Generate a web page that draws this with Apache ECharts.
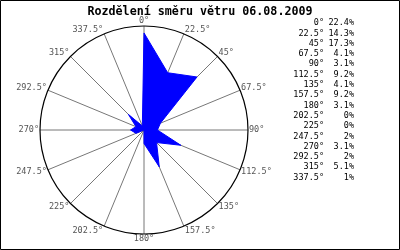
<!DOCTYPE html>
<html><head><meta charset="utf-8">
<script src="https://cdn.jsdelivr.net/npm/echarts@6/dist/echarts.min.js"></script>
<style>html,body{margin:0;padding:0;background:#fff}#c{width:400px;height:250px}</style>
</head><body><div id="c"></div>
<script>
const titleText = "Rozdělení směru větru 06.08.2009";
const directions = [0, 22.5, 45, 67.5, 90, 112.5, 135, 157.5, 180, 202.5, 225, 247.5, 270, 292.5, 315, 337.5];
const percents = [22.4, 14.3, 17.3, 4.1, 3.1, 9.2, 4.1, 9.2, 3.1, 0, 0, 2, 3.1, 2, 5.1, 1];
const radiusMax = 24;

const mono = "'DejaVu Sans Mono', monospace";
const lineData = directions.map((d, i) => [percents[i], d]);
lineData.push([percents[0], 360]);

const legendX1 = 324, legendX2 = 354, legendY0 = 23, legendDy = 10.3;
const graphics = [{type: 'rect', shape: {x: 0.5, y: 0.5, width: 399, height: 249}, style: {fill: 'none', stroke: '#000', lineWidth: 1}}];
directions.forEach((d, i) => {
  graphics.push({type: 'text', x: legendX1, y: legendY0 + i * legendDy,
    style: {text: d + '°', align: 'right', verticalAlign: 'middle', font: '8.5px ' + mono, fill: '#000'}});
  graphics.push({type: 'text', x: legendX2, y: legendY0 + i * legendDy,
    style: {text: percents[i] + '%', align: 'right', verticalAlign: 'middle', font: '8.5px ' + mono, fill: '#000'}});
});

const chart = echarts.init(document.getElementById('c'), null, {renderer: 'canvas'});
chart.setOption({
  animation: false,
  title: {text: titleText, left: 'center', top: 1,
    textStyle: {fontFamily: mono, fontWeight: 'bold', fontSize: 11.7, color: '#000'}},
  polar: {center: [144, 130], radius: 104},
  angleAxis: {type: 'value', min: 0, max: 360, interval: 22.5, startAngle: 90, clockwise: true,
    axisLine: {show: true, lineStyle: {color: '#000', width: 1.2}},
    axisTick: {show: false},
    splitLine: {show: true, lineStyle: {color: '#777', width: 1}},
    axisLabel: {show: false}},
  radiusAxis: {type: 'value', min: 0, max: radiusMax, show: false, splitLine: {show: false}},
  series: [{type: 'line', coordinateSystem: 'polar', data: lineData, symbol: 'none',
    lineStyle: {color: '#0000ff', width: 1}, areaStyle: {color: '#0000ff', opacity: 1}}],
  graphic: graphics
});

// angle labels placed at the end of each spoke, located through the polar coordinate system
const labelEls = directions.map(d => {
  const p = chart.convertToPixel({polarIndex: 0}, [radiusMax, d]);
  const rad = d * Math.PI / 180;
  const s = Math.sin(rad), c = Math.cos(rad);
  const align = s > 0.1 ? 'left' : (s < -0.1 ? 'right' : 'center');
  const dx = s > 0.1 ? 1 : (s < -0.1 ? -1 : 0);
  return {type: 'text', x: p[0] + dx, y: p[1] - 5 * c,
    style: {text: d + '°', align: align, verticalAlign: 'middle', font: '8.5px ' + mono, fill: '#555'}};
});
chart.setOption({graphic: graphics.concat(labelEls)});
</script></body></html>
